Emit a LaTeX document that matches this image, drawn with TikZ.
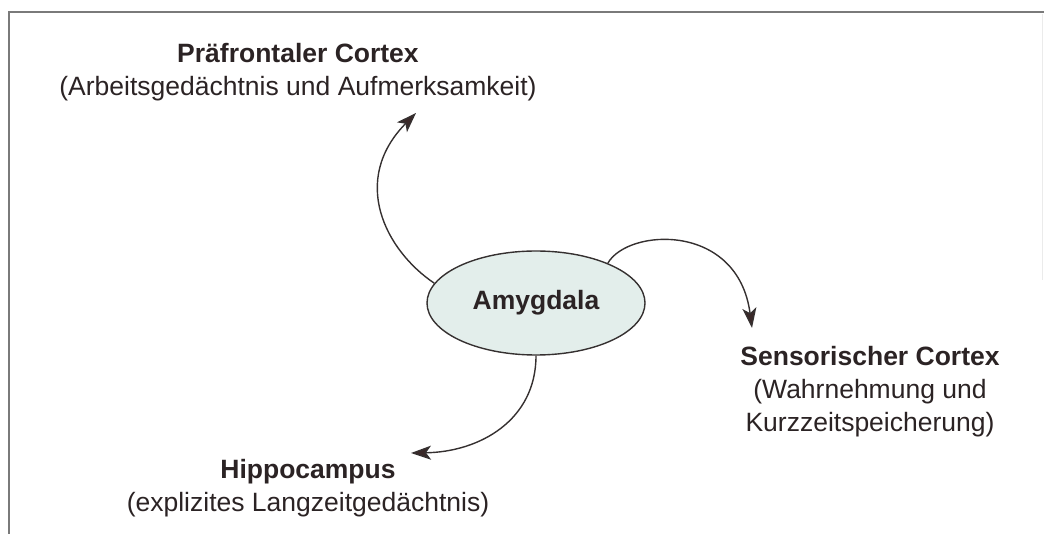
\documentclass[tikz,border=0pt]{standalone}
\usepackage{fontspec}
\setmainfont{Liberation Sans}
\usetikzlibrary{shapes.geometric,arrows.meta}

\definecolor{ink}{HTML}{2B2324}
\definecolor{linec}{HTML}{353030}
\definecolor{tipc}{HTML}{3A2828}
\definecolor{amyfill}{HTML}{E3EEEB}
\definecolor{framec}{HTML}{7A7A7A}

\tikzset{
  label text/.style={text=ink, align=center, inner sep=0pt,
    font=\fontsize{26.5}{33}\selectfont},
  region/.style={label text},
  core/.style={ellipse, draw=linec, line width=1.4pt, fill=amyfill,
    minimum width=218pt, minimum height=104pt, inner sep=0pt,
    text=ink, font=\fontsize{26.5}{33}\selectfont\bfseries},
  link/.style={draw=linec, line width=1.4pt,
    -{Stealth[length=20pt, width=14pt, inset=5pt, fill=tipc]}},
  frame/.style={draw=framec, line width=2pt}
}

\begin{document}
\begin{tikzpicture}[x=1pt, y=-1pt]
  \useasboundingbox (0,0) rectangle (1044,534);

  % page frame
  \draw[frame] (9,534) -- (9,12) -- (1044,12);
  \draw[draw=black!8, line width=1pt] (1042,14) -- (1042,280);

  % central structure
  \node[core] (amy) at (536,303) {Amygdala};

  % target regions
  \node[region] (pfc) at (298,72)
    {\textbf{Präfrontaler Cortex}\\(Arbeitsgedächtnis und Aufmerksamkeit)};
  \node[region] (sens) at (870,392)
    {\textbf{Sensorischer Cortex}\\(Wahrnehmung und\\Kurzzeitspeicherung)};
  \node[region] (hip) at (308,488)
    {\textbf{Hippocampus}\\(explizites Langzeitgedächtnis)};

  % arrow tips just beside each region label
  \coordinate (pfcTip) at (416,113);
  \coordinate (sensTip) at (752,328);
  \coordinate (hipTip) at (411,453);

  % projections
  \draw[link] (amy.169) .. controls (385,250) and (350,180) .. (pfcTip);
  \draw[link] (amy.29) .. controls (628,228) and (738,222) .. (sensTip);
  \draw[link] (amy.270) .. controls (536,420) and (480,452) .. (hipTip);
\end{tikzpicture}
\end{document}
